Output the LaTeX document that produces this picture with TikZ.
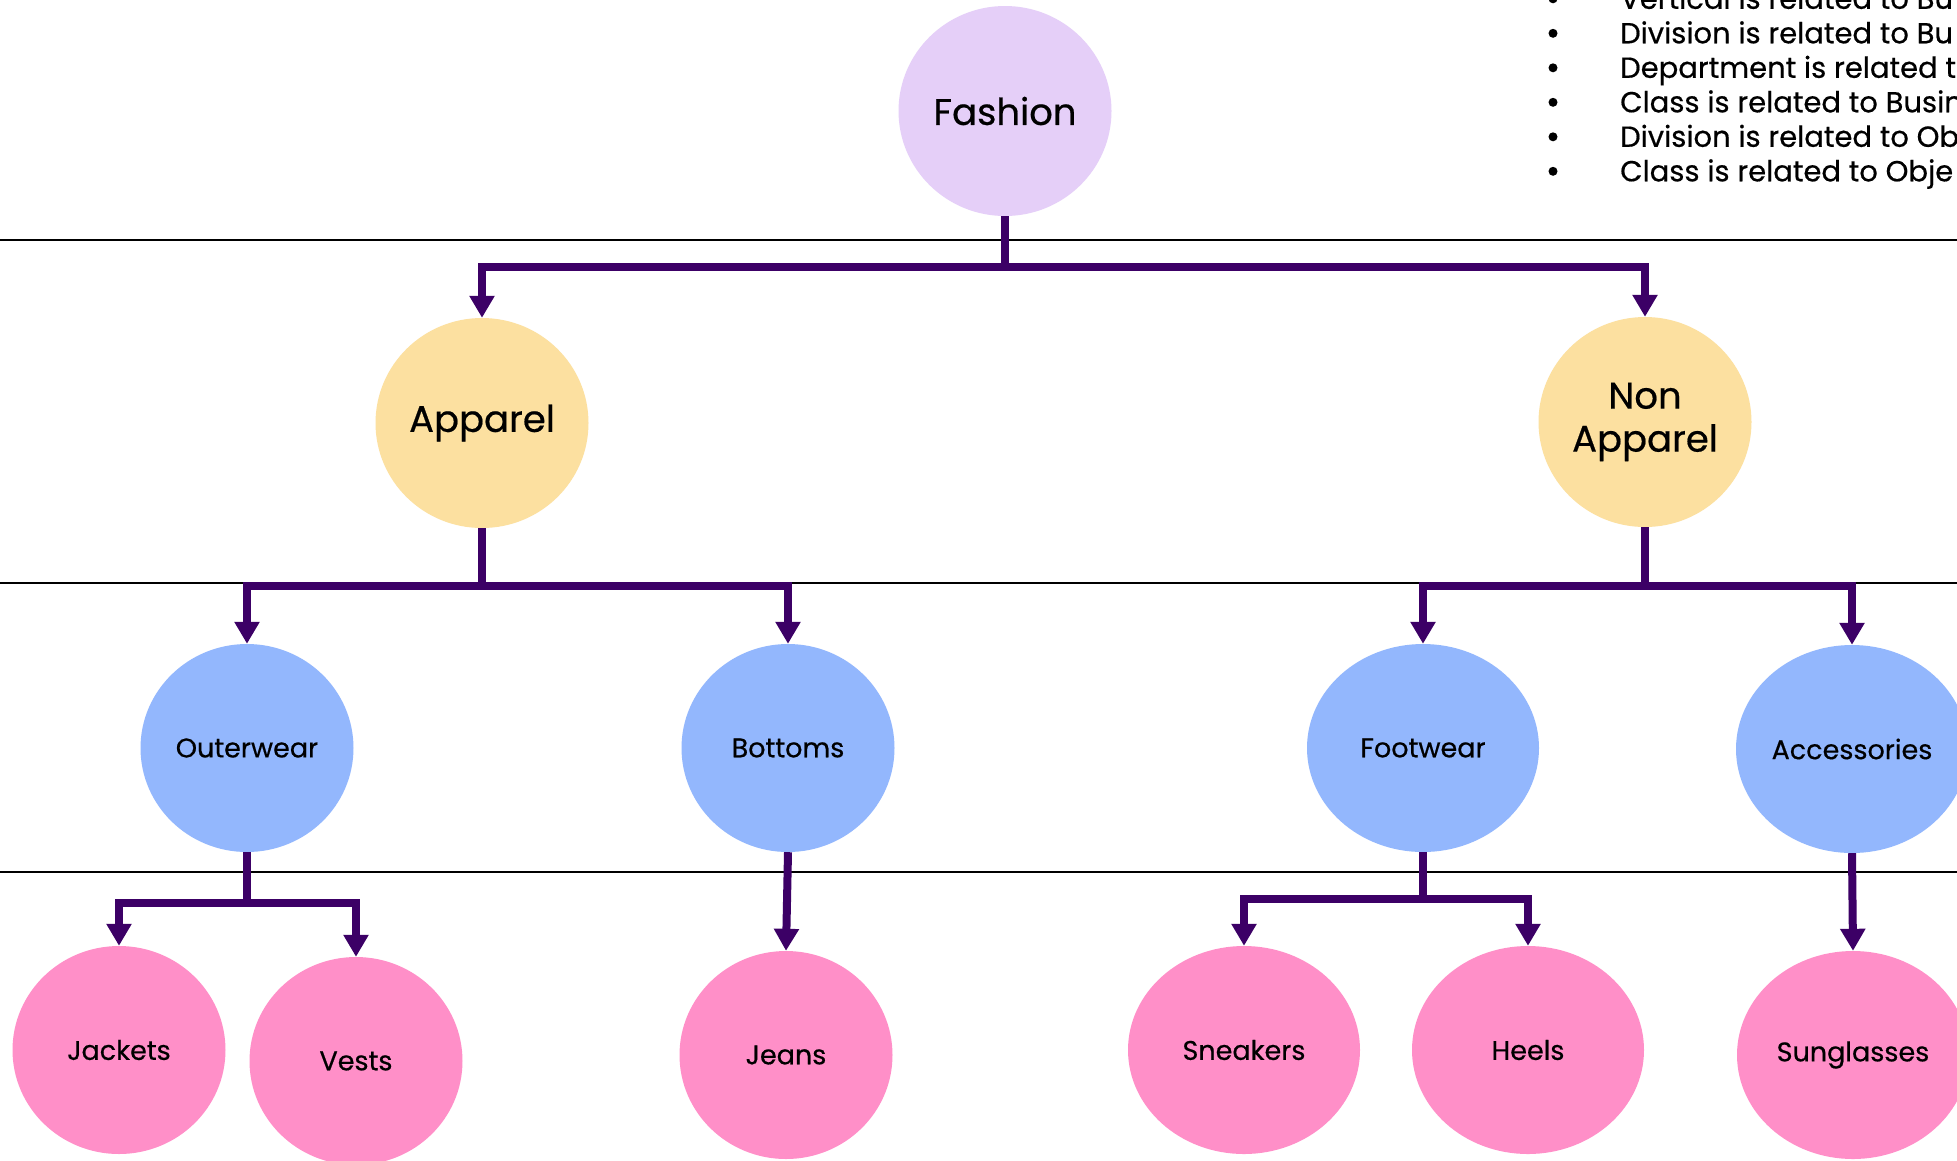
\documentclass[tikz,border=0pt]{standalone}
\usepackage{fontspec}
\setmainfont{Poppins}[FakeBold=0.5]
\usetikzlibrary{arrows.meta,shapes.geometric}
\definecolor{lav}{RGB}{229,207,248}
\definecolor{yel}{RGB}{252,224,160}
\definecolor{blu}{RGB}{147,183,253}
\definecolor{pnk}{RGB}{255,143,200}
\definecolor{pur}{RGB}{60,0,102}
\tikzset{
  bub/.style={ellipse,inner sep=0pt,align=center,text=black},
  big/.style={bub,minimum width=213pt,minimum height=210pt,font=\fontsize{37}{43}\selectfont},
  mid/.style={bub,minimum width=213pt,minimum height=208pt,font=\fontsize{27}{30}\selectfont},
  wid/.style={bub,minimum width=232pt,minimum height=208pt,font=\fontsize{27}{30}\selectfont},
  conn/.style={draw=pur,line width=8pt,-{Triangle[width=24pt,length=22pt]}},
  sep/.style={draw=black,line width=1.3pt},
  item/.style={anchor=base west,inner sep=0pt,font=\fontsize{29}{34}\selectfont}
}
\begin{document}
\begin{tikzpicture}[x=1pt,y=-1pt]
\clip (0,0) rectangle (1957,1160);
\fill[white] (0,0) rectangle (1957,1160);
% separators
\draw[sep] (0,240) -- (1957,240);
\draw[sep] (0,583) -- (1957,583);
\draw[sep] (0,872) -- (1957,872);
% nodes
\node[big,fill=lav] (fashion) at (1005,111) {Fashion};
\node[big,fill=yel] (apparel) at (482,423) {Apparel};
\node[big,fill=yel] (nonapp) at (1645,422) {Non\\Apparel};
\node[mid,fill=blu] (outer) at (247,748) {Outerwear};
\node[mid,fill=blu] (bottoms) at (788,748) {Bottoms};
\node[wid,fill=blu] (foot) at (1423,748) {Footwear};
\node[wid,fill=blu] (acc) at (1852,749) {Accessories};
\node[mid,fill=pnk] (jackets) at (119,1050) {Jackets};
\node[mid,fill=pnk] (vests) at (356,1061) {Vests};
\node[mid,fill=pnk] (jeans) at (786,1055) {Jeans};
\node[wid,fill=pnk] (sneakers) at (1244,1050) {Sneakers};
\node[wid,fill=pnk] (heels) at (1528,1050) {Heels};
\node[wid,fill=pnk] (sung) at (1853,1055) {Sunglasses};
% junctions
\coordinate (j0) at (1005,267);
\coordinate (j1) at (482,586);
\coordinate (j2) at (1645,586);
\coordinate (j3) at (247,903);
\coordinate (j4) at (1423,899);
% connectors
\draw[conn] (fashion.south) -- (j0) -| (apparel.north);
\draw[conn] (j0) -| (nonapp.north);
\draw[conn] (apparel.south) -- (j1) -| (outer.north);
\draw[conn] (j1) -| (bottoms.north);
\draw[conn] (nonapp.south) -- (j2) -| (foot.north);
\draw[conn] (j2) -| (acc.north);
\draw[conn] (outer.south) -- (j3) -| (jackets.north);
\draw[conn] (j3) -| (vests.north);
\draw[conn] (bottoms.south) -- (jeans.north);
\draw[conn] (foot.south) -- (j4) -| (sneakers.north);
\draw[conn] (j4) -| (heels.north);
\draw[conn] (acc.south) -- (sung.north);
% list
\foreach \y/\t [count=\i] in {8.8/Vertical is related to Bu,43.3/Division is related to Bu,77.8/Department is related t,112.3/Class is related to Busin,146.8/Division is related to Ob,181.3/Class is related to Obje}{
  \fill (1553,\y-10) circle (4.5pt);
  \node[item] (li\i) at (1620,\y) {\t};
}
\end{tikzpicture}
\end{document}
